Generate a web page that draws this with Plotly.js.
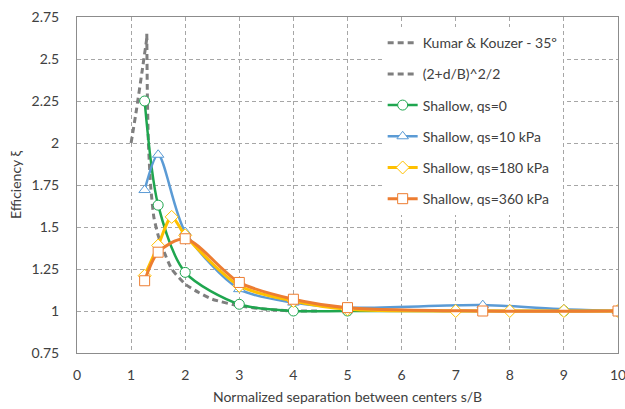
<!DOCTYPE html>
<html>
<head>
<meta charset="utf-8">
<script src="https://cdn.plot.ly/plotly-3.0.1.min.js"></script>
<style>html,body{margin:0;padding:0;background:#fff;}#chart{width:625px;height:409px;}</style>
</head>
<body>
<div id="chart"></div>
<script>
// Kumar & Kouzer - 35º
const kkX = [1.29, 1.30, 1.32, 1.36, 1.42, 1.5, 1.6, 1.75, 2.0, 2.25, 2.5, 3.0, 3.5, 4.0, 4.5];
const kkY = [2.65, 2.30, 2.00, 1.75, 1.56, 1.45, 1.36, 1.25, 1.16, 1.11, 1.07, 1.03, 1.01, 1.00, 1.00];
// (2+d/B)^2/2
const fX = [1.0, 1.1, 1.2, 1.3];
const fY = [2.0, 2.2, 2.42, 2.645];
// Shallow, qs=0
const s0X = [1.25, 1.5, 2, 3, 4, 5, 9, 10];
const s0Y = [2.25, 1.63, 1.23, 1.04, 1.0, 1.0, 1.0, 1.0];
// Shallow, qs=10 kPa
const s10X = [1.25, 1.5, 2, 3, 4, 5, 7.5, 9, 10];
const s10Y = [1.72, 1.93, 1.47, 1.13, 1.05, 1.02, 1.035, 1.01, 1.0];
// Shallow, qs=180 kPa
const s180X = [1.25, 1.5, 1.75, 2, 3, 4, 5, 7, 8, 9, 10];
const s180Y = [1.21, 1.39, 1.56, 1.45, 1.15, 1.06, 1.01, 1.0, 1.0, 1.0, 1.0];
// Shallow, qs=360 kPa
const s360X = [1.25, 1.5, 2, 3, 4, 5, 7.5, 10];
const s360Y = [1.18, 1.35, 1.43, 1.17, 1.07, 1.02, 1.0, 1.0];

const yTickVals = [0.75, 1, 1.25, 1.5, 1.75, 2, 2.25, 2.5, 2.75];
const yTickText = ["0.75", "1", "1.25", "1.5", "1.75", "2", "2.25", "2.5", "2.75"];
const xTickVals = [0, 1, 2, 3, 4, 5, 6, 7, 8, 9, 10];

const names = ["Kumar & Kouzer - 35º", "(2+d/B)^2/2", "Shallow, qs=0", "Shallow, qs=10 kPa", "Shallow, qs=180 kPa", "Shallow, qs=360 kPa"];

const gray = "#7f7f7f";
function dashed(x, y, name, g) {
  return {x: x, y: y, name: name, legendgroup: g, mode: "lines", type: "scatter",
    line: {color: gray, width: 3, dash: "6px,4px", shape: "spline", smoothing: 0.5}};
}
function series(x, y, name, color, sym, g, w) {
  return {x: x, y: y, name: name, legendgroup: g, mode: "lines+markers", type: "scatter",
    line: {color: color, width: w, shape: "spline", smoothing: 0.8},
    marker: {symbol: sym, size: 10, color: "#ffffff", line: {color: color, width: 1}}};
}

const traces = [
  dashed(kkX, kkY, names[0], "a"),
  dashed(fX, fY, names[1], "b"),
  series(s0X, s0Y, names[2], "#1fa64f", "circle", "c", 2.5),
  series(s10X, s10Y, names[3], "#5b9bd5", "triangle-up", "d", 2.5),
  series(s180X, s180Y, names[4], "#ffc000", "diamond", "e", 3),
  series(s360X, s360Y, names[5], "#ed7d31", "square", "f", 3)
];

const fontFam = "Lato, 'Open Sans', sans-serif";
const layout = {
  width: 625, height: 409,
  margin: {l: 77, r: 7, t: 17, b: 56},
  paper_bgcolor: "#ffffff", plot_bgcolor: "#ffffff",
  font: {family: fontFam, size: 14, color: "#404040"},
  showlegend: true,
  legend: {x: 0.565, y: 0.97, xanchor: "left", yanchor: "top", bgcolor: "#ffffff",
    traceorder: "grouped", tracegroupgap: 10, font: {size: 14, color: "#404040"}},
  xaxis: {range: [0, 10], tickvals: xTickVals, showgrid: true, gridcolor: "#a6a6a6", griddash: "4px,3px", gridwidth: 1,
    showline: true, linecolor: "#8c8c8c", linewidth: 1, mirror: true, zeroline: false, ticks: "",
    ticklabelstandoff: 9, ticklabeloverflow: "allow",
    title: {text: "Normalized separation between centers s/B", font: {size: 14, color: "#404040"}, standoff: 10}},
  yaxis: {range: [0.75, 2.75], tickvals: yTickVals, ticktext: yTickText, showgrid: true, gridcolor: "#a6a6a6", griddash: "4px,3px", gridwidth: 1,
    showline: true, linecolor: "#8c8c8c", linewidth: 1, mirror: true, zeroline: false, ticks: "",
    ticklabelstandoff: 14,
    title: {text: "Efficiency ξ", font: {size: 14, color: "#404040"}, standoff: 6}}
};

Plotly.newPlot("chart", traces, layout, {displayModeBar: false, staticPlot: true});
</script>
</body>
</html>
